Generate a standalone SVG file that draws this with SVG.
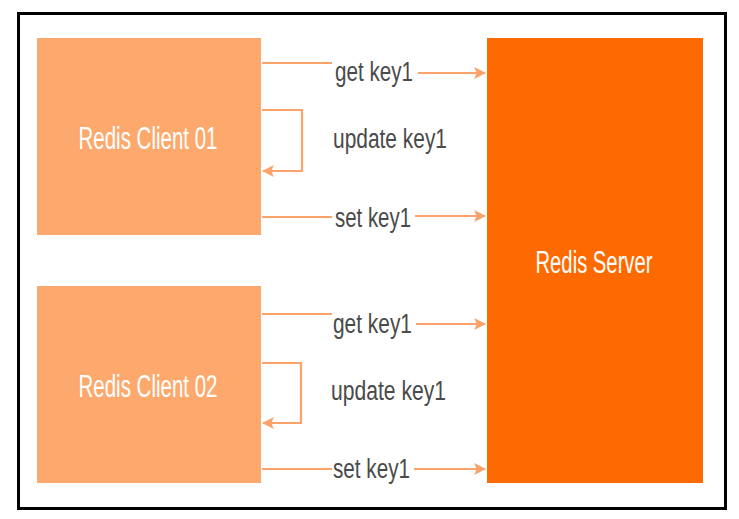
<svg xmlns="http://www.w3.org/2000/svg" width="739" height="519" viewBox="0 0 739 519">
<defs>
<marker id="ah" viewBox="0 0 10 10" refX="9" refY="5" markerWidth="12" markerHeight="12" markerUnits="userSpaceOnUse" orient="auto">
<path d="M0,0 L10,5 L0,10 L2,5 Z" fill="#FBA36A"/>
</marker>
<style>
.client{fill:#FDA96D}
.server{fill:#FF6A00}
.box-label{font-family:"Liberation Sans Narrow","Liberation Sans",Arial,sans-serif;font-size:31px;fill:#FFFFFF;text-anchor:middle}
.lbl{font-family:"Liberation Sans Narrow","Liberation Sans",Arial,sans-serif;font-size:27px;fill:#4A4A4A}
.conn{fill:none;stroke:#FBA36A;stroke-width:2.2}
</style>
</defs>
<rect x="0" y="0" width="739" height="519" fill="#FFFFFF"/>
<rect x="18.5" y="13.5" width="707" height="495" fill="none" stroke="#000000" stroke-width="3"/>
<g id="client01">
<rect class="client" x="37" y="38" width="224" height="197"/>
<text class="box-label" x="148" y="149" textLength="139" lengthAdjust="spacingAndGlyphs">Redis Client 01</text>
</g>
<g id="client02">
<rect class="client" x="37" y="286" width="224" height="197"/>
<text class="box-label" x="148" y="397" textLength="139" lengthAdjust="spacingAndGlyphs">Redis Client 02</text>
</g>
<g id="server">
<rect class="server" x="487" y="38" width="216" height="445"/>
<text class="box-label" x="594" y="273" textLength="117" lengthAdjust="spacingAndGlyphs">Redis Server</text>
</g>
<g id="connectors">
<path class="conn" d="M262,63 H332 M418,73 H485" marker-end="url(#ah)"/>
<path class="conn" d="M262,110 H302 V171 H263" marker-end="url(#ah)"/>
<path class="conn" d="M262,217 H332 M415,216 H485" marker-end="url(#ah)"/>
<path class="conn" d="M262,314 H332 M416,324 H485" marker-end="url(#ah)"/>
<path class="conn" d="M262,363 H301 V423 H263" marker-end="url(#ah)"/>
<path class="conn" d="M262,469 H332 M414,469 H485" marker-end="url(#ah)"/>
</g>
<g id="labels">
<text class="lbl" x="335" y="81" textLength="78" lengthAdjust="spacingAndGlyphs">get key1</text>
<text class="lbl" x="333" y="148" textLength="114" lengthAdjust="spacingAndGlyphs">update key1</text>
<text class="lbl" x="335" y="227" textLength="76" lengthAdjust="spacingAndGlyphs">set key1</text>
<text class="lbl" x="333" y="333" textLength="79" lengthAdjust="spacingAndGlyphs">get key1</text>
<text class="lbl" x="331" y="400" textLength="115" lengthAdjust="spacingAndGlyphs">update key1</text>
<text class="lbl" x="333" y="478" textLength="77" lengthAdjust="spacingAndGlyphs">set key1</text>
</g>
</svg>
